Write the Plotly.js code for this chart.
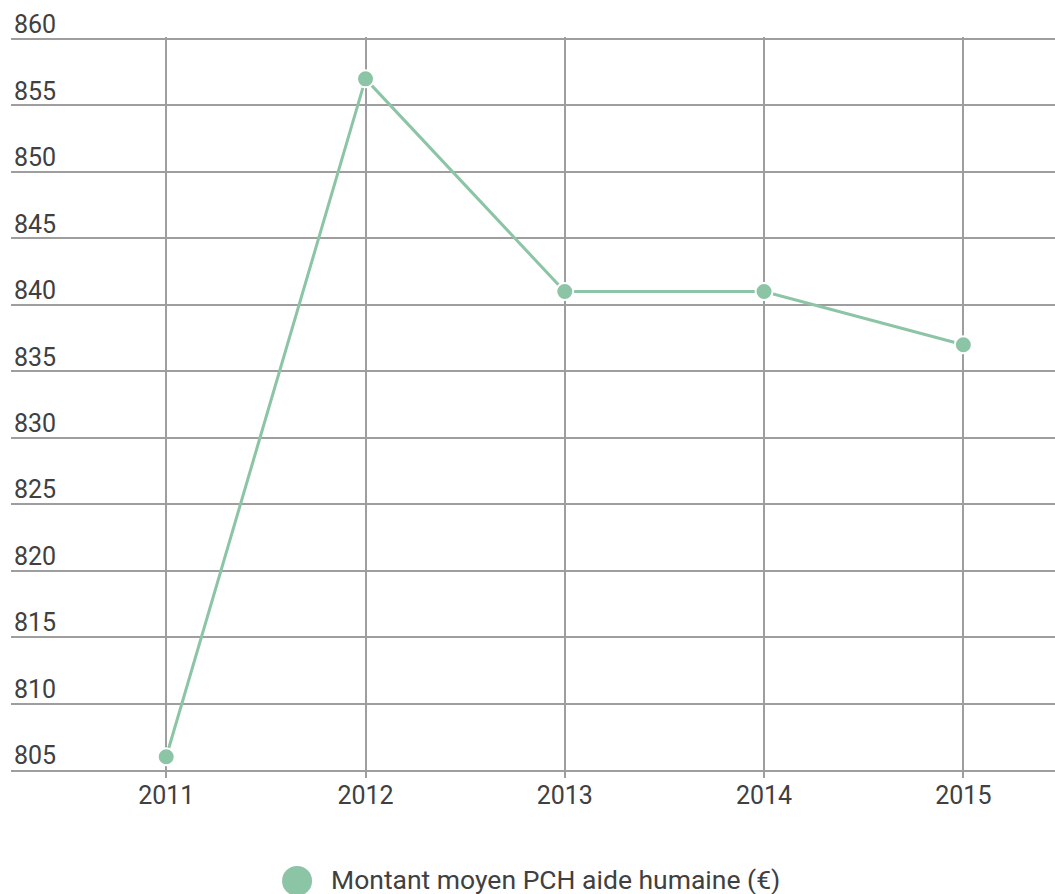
<!DOCTYPE html>
<html>
<head>
<meta charset="utf-8">
<script src="https://cdn.plot.ly/plotly-3.0.1.min.js"></script>
<style>
html,body{margin:0;padding:0;background:#fff;}
#chart{width:1055px;height:894px;}
</style>
</head>
<body>
<div id="chart"></div>
<script>
const years = [2011, 2012, 2013, 2014, 2015];
const values = [806, 857, 841, 841, 837];
const seriesName = "Montant moyen PCH aide humaine (€)";
const yTicks = [805, 810, 815, 820, 825, 830, 835, 840, 845, 850, 855, 860];

const green = "#8cc4a6";
const grid = "#9e9e9e";
const textColor = "#404040";

const trace = {
  x: years,
  y: values,
  name: seriesName,
  type: "scatter",
  mode: "lines+markers",
  line: {color: green, width: 3},
  marker: {color: green, size: 17, line: {color: "#ffffff", width: 2}},
  cliponaxis: false,
  showlegend: false
};

const layout = {
  width: 1055,
  height: 894,
  margin: {l: 11, r: 0, t: 37, b: 124},
  paper_bgcolor: "#ffffff",
  plot_bgcolor: "#ffffff",
  font: {family: "Roboto, sans-serif", size: 25, color: textColor},
  showlegend: false,
  xaxis: {
    range: [2010.221, 2015.46],
    tickvals: years,
    ticktext: years.map(String),
    showgrid: true,
    gridcolor: grid,
    gridwidth: 2,
    zeroline: false,
    showline: true,
    linecolor: grid,
    linewidth: 2,
    ticks: "outside",
    ticklen: 6,
    tickwidth: 2,
    tickcolor: grid,
    ticklabelstandoff: -4,
    tickfont: {size: 25, color: textColor},
    fixedrange: true
  },
  yaxis: {
    range: [805, 860.15],
    tickvals: yTicks,
    ticktext: yTicks.map(String),
    showgrid: true,
    gridcolor: grid,
    gridwidth: 2,
    zeroline: false,
    showline: false,
    ticks: "",
    ticklabelposition: "inside top",
    ticklabeloverflow: "allow",
    ticklabelshift: 3,
    tickfont: {size: 25, color: textColor},
    fixedrange: true
  },
  shapes: [{
    type: "circle",
    xref: "paper", yref: "paper",
    xsizemode: "pixel", ysizemode: "pixel",
    xanchor: 0.274, yanchor: -0.1514,
    x0: -15, x1: 15, y0: -15, y1: 15,
    fillcolor: green,
    line: {width: 0}
  }],
  annotations: [{
    xref: "paper", yref: "paper",
    x: 0.306, y: -0.149,
    xanchor: "left", yanchor: "middle",
    borderpad: 0,
    text: seriesName,
    showarrow: false,
    font: {size: 26.5, color: textColor}
  }]
};

Plotly.newPlot("chart", [trace], layout, {displayModeBar: false, staticPlot: true});
</script>
</body>
</html>
